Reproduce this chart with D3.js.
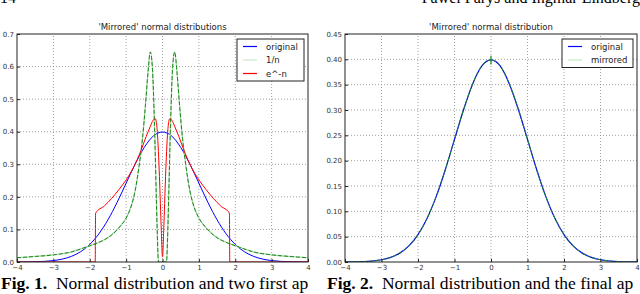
<!DOCTYPE html>
<html>
<head>
<meta charset="utf-8">
<script src="https://cdn.jsdelivr.net/npm/d3@7"></script>
<style>
  body { margin: 0; background: #fff; }
  svg { display: block; }
  .tick-label { font-family: "DejaVu Sans", sans-serif; font-size: 7px; fill: #333; }
  .title { font-family: "DejaVu Sans", sans-serif; font-size: 8.5px; fill: #222; }
  .legend-text { font-family: "DejaVu Sans", sans-serif; font-size: 8.5px; fill: #222; }
  .caption { font-family: "Liberation Serif", "Times New Roman", serif; font-size: 17.5px; fill: #000; }
  .header { font-family: "Liberation Serif", "Times New Roman", serif; font-size: 16px; fill: #000; }
</style>
</head>
<body>
<div id="chart"></div>
<script>
// ---- data ----
const xTicks = [-4, -3, -2, -1, 0, 1, 2, 3, 4];
const yTicks1 = [0.0, 0.1, 0.2, 0.3, 0.4, 0.5, 0.6, 0.7];
const yTicks2 = [0.00, 0.05, 0.10, 0.15, 0.20, 0.25, 0.30, 0.35, 0.40, 0.45];

// normal curve, left half (x, y); right half mirrors it
const originalHalf = [
  [-4, 0.0002], [-3.75, 0.0004], [-3.5, 0.0009], [-3.25, 0.002], [-3, 0.0044],
  [-2.75, 0.0091], [-2.5, 0.0175], [-2.25, 0.0317], [-2, 0.054], [-1.75, 0.0863],
  [-1.5, 0.1295], [-1.25, 0.1826], [-1, 0.242], [-0.75, 0.301], [-0.5, 0.352],
  [-0.25, 0.387], [0, 0.399]
];
// "1/n" curve, left half
const oneOverNHalf = [
  [-4, 0.013], [-3.5, 0.017], [-3, 0.022], [-2.5, 0.031], [-2.2, 0.042], [-2, 0.05],
  [-1.8, 0.058], [-1.6, 0.068], [-1.4, 0.083], [-1.2, 0.105], [-1.0, 0.135],
  [-0.85, 0.175], [-0.75, 0.22], [-0.65, 0.29], [-0.55, 0.38], [-0.47, 0.48],
  [-0.4, 0.58], [-0.335, 0.645], [-0.28, 0.6], [-0.22, 0.42], [-0.17, 0.2],
  [-0.13, 0.04], [-0.11, 0.0], [0, 0.0]
];
// "e^-n" curve, left half
const expNHalf = [
  [-4, 0], [-1.85, 0], [-1.84, 0.15], [-1.6, 0.172], [-1.4, 0.195], [-1.2, 0.222],
  [-1.0, 0.252], [-0.8, 0.29], [-0.6, 0.34], [-0.45, 0.385], [-0.34, 0.415],
  [-0.26, 0.435], [-0.2, 0.44], [-0.15, 0.41], [-0.09, 0.28], [-0.04, 0.12], [0, 0.016]
];
// "mirrored" curve of the second figure and its small spike at 0
const mirroredHalf = originalHalf;
const spike = [[0, 0.39], [0, 0.407]];

const legend1 = [
  { label: "original", color: "#0000ff" },
  { label: "1/n", color: "#c8e6c8" },
  { label: "e^-n", color: "#ff0000" }
];
const legend2 = [
  { label: "original", color: "#0000ff" },
  { label: "mirrored", color: "#c8e6c8" }
];

function mirror(half) {
  const right = half.slice(0, -1).reverse().map(([x, y]) => [-x, y]);
  return half.concat(right);
}

const W = 640, H = 294;
const svg = d3.select("#chart").append("svg").attr("width", W).attr("height", H);

// running header (cut by the top edge, as in the page scan)
svg.append("text").attr("class", "header").attr("x", 0).attr("y", 3).text("14");
svg.append("text").attr("class", "header").attr("x", 640).attr("y", 3)
  .attr("text-anchor", "end").text("Paweł Parys and Ingmar Lindberg");

function panel(opt) {
  const x = d3.scaleLinear().domain([-4, 4]).range([opt.left, opt.right]);
  const y = d3.scaleLinear().domain([0, opt.yMax]).range([262, 34]);
  const g = svg.append("g");

  // grid
  g.selectAll(".gx").data(xTicks.slice(1, -1)).enter().append("line")
    .attr("x1", d => x(d)).attr("x2", d => x(d)).attr("y1", y(0)).attr("y2", y(opt.yMax))
    .attr("stroke", "#888").attr("stroke-width", 0.8).attr("stroke-dasharray", "1,2");
  g.selectAll(".gy").data(opt.yTicks.slice(1, -1)).enter().append("line")
    .attr("y1", d => y(d)).attr("y2", d => y(d)).attr("x1", x(-4)).attr("x2", x(4))
    .attr("stroke", "#888").attr("stroke-width", 0.8).attr("stroke-dasharray", "1,2");

  const line = d3.line().x(d => x(d[0])).y(d => y(d[1])).curve(d3.curveMonotoneX);
  const clip = "clip" + opt.left;
  svg.append("clipPath").attr("id", clip).append("rect")
    .attr("x", x(-4)).attr("y", y(opt.yMax)).attr("width", x(4) - x(-4)).attr("height", y(0) - y(opt.yMax));
  const lines = g.append("g").attr("clip-path", `url(#${clip})`);
  opt.series.forEach(s => {
    lines.append("path").attr("d", line(s.data)).attr("fill", "none")
      .attr("stroke", s.color).attr("stroke-width", s.width || 1)
      .attr("stroke-dasharray", s.dash || null);
  });
  if (opt.extra) opt.extra(lines, x, y);

  // frame
  g.append("rect").attr("x", x(-4)).attr("y", y(opt.yMax))
    .attr("width", x(4) - x(-4)).attr("height", y(0) - y(opt.yMax))
    .attr("fill", "none").attr("stroke", "#222").attr("stroke-width", 1);

  // ticks (inside) and labels
  const xAxis = d3.axisBottom(x).tickValues(xTicks).tickSize(-3).tickPadding(3)
    .tickFormat(d => d3.format("")(d).replace("-", "\u2212"));
  const gx = g.append("g").attr("transform", `translate(0,${y(0)})`).call(xAxis);
  const yAxis = d3.axisLeft(y).tickValues(opt.yTicks).tickSize(-3).tickPadding(3)
    .tickFormat(d3.format(opt.yFmt));
  const gy = g.append("g").attr("transform", `translate(${x(-4)},0)`).call(yAxis);
  [gx, gy].forEach(a => {
    a.select(".domain").remove();
    a.selectAll(".tick line").attr("stroke", "#222");
    a.selectAll(".tick text").attr("class", "tick-label").attr("font-size", null).attr("font-family", null);
  });
  gy.selectAll(".tick line").attr("x2", 3);
  gx.selectAll(".tick line").attr("y2", -3);

  // title
  g.append("text").attr("class", "title").attr("x", (x(-4) + x(4)) / 2).attr("y", 30)
    .attr("text-anchor", "middle").text(opt.title);

  // legend
  const lg = g.append("g");
  lg.append("rect").attr("x", opt.legend.x).attr("y", 39).attr("width", opt.legend.w)
    .attr("height", 13.5 * opt.legend.items.length + 1.5)
    .attr("fill", "#fff").attr("stroke", "#222").attr("stroke-width", 1);
  opt.legend.items.forEach((it, i) => {
    const yy = 46.5 + i * 13.5;
    lg.append("line").attr("x1", opt.legend.x + 6).attr("x2", opt.legend.x + 20)
      .attr("y1", yy).attr("y2", yy).attr("stroke", it.color).attr("stroke-width", 1.2);
    lg.append("text").attr("class", "legend-text").attr("x", opt.legend.x + 29)
      .attr("y", yy + 3).text(it.label);
  });
}

panel({
  left: 17, right: 308, yMax: 0.7, yTicks: yTicks1, yFmt: ".1f",
  title: "'Mirrored' normal distributions",
  series: [
    { data: mirror(originalHalf), color: "#0000ff", width: 1 },
    { data: mirror(oneOverNHalf), color: "#a9d8a9", width: 1.2 },
    { data: mirror(oneOverNHalf), color: "#1a8a1a", width: 1, dash: "4,2" },
    { data: mirror(expNHalf), color: "#ff0000", width: 1 }
  ],
  legend: { x: 237, w: 67, items: legend1 }
});

panel({
  left: 345, right: 637, yMax: 0.45, yTicks: yTicks2, yFmt: ".2f",
  title: "'Mirrored' normal distribution",
  series: [
    { data: mirror(originalHalf), color: "#0000ff", width: 1.2 },
    { data: mirror(mirroredHalf), color: "#1a8a1a", width: 1, dash: "4,2" }
  ],
  extra: (g, x, y) => {
    g.append("path").attr("d", d3.line().x(d => x(d[0])).y(d => y(d[1]))(spike))
      .attr("stroke", "#1a8a1a").attr("stroke-width", 1.2).attr("fill", "none");
  },
  legend: { x: 562, w: 71, items: legend2 }
});

// captions
const cap1 = svg.append("text").attr("class", "caption").attr("x", 1).attr("y", 289);
cap1.append("tspan").attr("font-weight", "bold").text("Fig. 1.");
cap1.append("tspan").text("\u2002Normal distribution and two first ap");
const cap2 = svg.append("text").attr("class", "caption").attr("x", 327).attr("y", 289);
cap2.append("tspan").attr("font-weight", "bold").text("Fig. 2.");
cap2.append("tspan").text("\u2002Normal distribution and the final ap");
</script>
</body>
</html>
